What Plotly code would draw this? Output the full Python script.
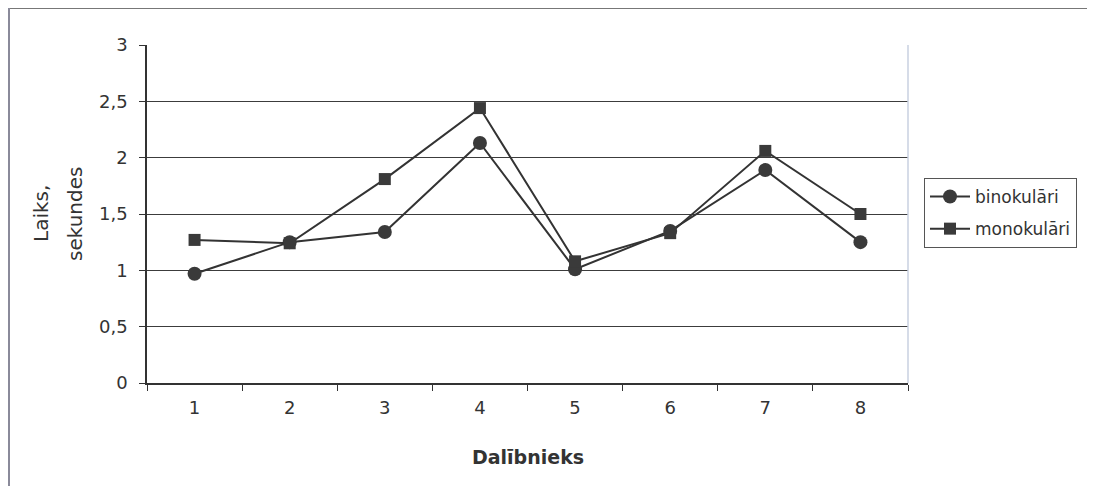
import plotly.graph_objects as go

categories = ["1", "2", "3", "4", "5", "6", "7", "8"]
binokulari = [0.97, 1.25, 1.34, 2.13, 1.01, 1.35, 1.89, 1.25]
monokulari = [1.27, 1.24, 1.81, 2.44, 1.08, 1.33, 2.06, 1.50]
y_ticks = [0, 0.5, 1, 1.5, 2, 2.5, 3]
y_tick_labels = ["0", "0,5", "1", "1,5", "2", "2,5", "3"]

# figure coords (page adds 8px body margin)
W, H = 1087, 478
L, R, T, B = 139, 900, 37, 375

def px_x(px):
    return (px - L) / (R - L)

def px_y(py):
    return (B - py) / (B - T)

dark = "#333333"
FAM = "DejaVu Sans, Arial, sans-serif"
font = dict(family=FAM, size=18, color=dark)

fig = go.Figure()
fig.add_trace(go.Scatter(
    x=categories, y=binokulari, name="binokulāri", mode="lines+markers",
    legendgroup="a",
    line=dict(color=dark, width=2),
    marker=dict(symbol="circle", size=14, color="#3a3a3a"),
))
fig.add_trace(go.Scatter(
    x=categories, y=monokulari, name="monokulāri", mode="lines+markers",
    legendgroup="b",
    line=dict(color=dark, width=2),
    marker=dict(symbol="square", size=12, color="#3a3a3a"),
))

fig.update_layout(
    width=W, height=H,
    margin=dict(l=L, r=W - R, t=T, b=H - B, autoexpand=False),
    paper_bgcolor="white", plot_bgcolor="white",
    font=font,
    showlegend=True,
    legend=dict(
        x=px_x(916), y=px_y(170), xanchor="left", yanchor="top",
        bordercolor="#555555", borderwidth=1, bgcolor="white",
        font=dict(family=FAM, size=17, color=dark), traceorder="grouped",
        tracegroupgap=7, itemwidth=40,
    ),
    xaxis=dict(
        type="category", range=[-0.5, 7.5],
        showline=True, linecolor=dark, linewidth=1.5,
        ticks="outside", tickson="boundaries", ticklen=6, tickcolor=dark,
        showgrid=False, tickfont=font, zeroline=False,
        ticklabelstandoff=8,
    ),
    yaxis=dict(
        range=[0, 3], tickvals=y_ticks, ticktext=y_tick_labels,
        showline=True, linecolor=dark, linewidth=1.5,
        ticks="outside", ticklen=6, tickcolor=dark,
        showgrid=True, gridcolor="#3c3c3c", gridwidth=1.3,
        tickfont=font,
        zeroline=False, ticklabelstandoff=8,
    ),
    shapes=[
        dict(type="line", xref="paper", yref="paper", x0=px_x(1), x1=px_x(1100), y0=px_y(0), y1=px_y(0),
             line=dict(color="#777777", width=2)),
        dict(type="line", xref="paper", yref="paper", x0=px_x(1), x1=px_x(1), y0=px_y(0), y1=px_y(490),
             line=dict(color="#8a8a9a", width=2)),
        dict(type="line", xref="paper", yref="paper", x0=1, x1=1, y0=0, y1=1,
             line=dict(color="#c8d0e0", width=1.5)),
    ],
    annotations=[
        dict(text="Laiks,", xref="paper", yref="paper", x=px_x(33), y=px_y(206),
             showarrow=False, textangle=-90, xanchor="center", yanchor="middle",
             font=dict(family=FAM, size=20, color=dark)),
        dict(text="sekundes", xref="paper", yref="paper", x=px_x(67), y=px_y(206),
             showarrow=False, textangle=-90, xanchor="center", yanchor="middle",
             font=dict(family=FAM, size=20, color=dark)),
        dict(text="<b>Dalībnieks</b>", xref="paper", yref="paper", x=0.5, y=px_y(449),
             showarrow=False, xanchor="center", yanchor="middle",
             font=dict(family=FAM, size=19, color=dark)),
    ],
)

fig.write_html("out.html")
